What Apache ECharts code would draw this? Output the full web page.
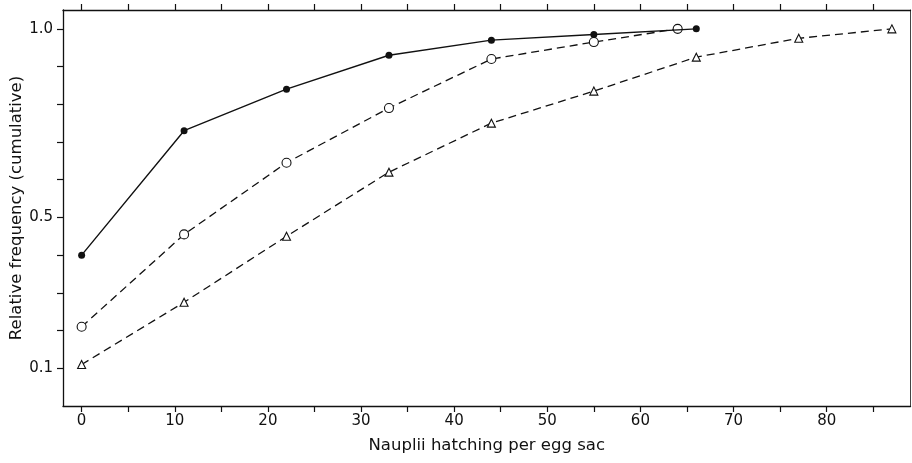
<!DOCTYPE html>
<html>
<head>
<meta charset="utf-8">
<script src="https://cdn.jsdelivr.net/npm/echarts@6/dist/echarts.min.js"></script>
<style>html,body{margin:0;padding:0;background:#fff;}#c{width:912px;height:463px;}</style>
</head>
<body>
<div id="c"></div>
<script>
// Data
const filledX = [0, 11, 22, 33, 44, 55, 66];
const filledY = [0.40, 0.73, 0.84, 0.93, 0.97, 0.985, 1.0];
const openX = [0, 11, 22, 33, 44, 55, 64];
const openY = [0.21, 0.455, 0.645, 0.79, 0.92, 0.965, 1.0];
const triX = [0, 11, 22, 33, 44, 55, 66, 77, 87];
const triY = [0.11, 0.275, 0.45, 0.62, 0.75, 0.835, 0.925, 0.975, 1.0];
const xTickValues = [0, 5, 10, 15, 20, 25, 30, 35, 40, 45, 50, 55, 60, 65, 70, 75, 80, 85];
const xLabelValues = [0, 10, 20, 30, 40, 50, 60, 70, 80];
const yTickValues = [0.1, 0.2, 0.3, 0.4, 0.5, 0.6, 0.7, 0.8, 0.9, 1.0];
const yLabelValues = [0.1, 0.5, 1.0];
const xTitle = 'Nauplii hatching per egg sac';
const yTitle = 'Relative frequency (cumulative)';

const zip = (xs, ys) => xs.map((x, i) => [x, ys[i]]);
const ink = '#111';
const font = 'DejaVu Sans';

const chart = echarts.init(document.getElementById('c'), null, {renderer: 'canvas'});
chart.setOption({
  animation: false,
  backgroundColor: '#fff',
  grid: {left: 63, right: 1.5, top: 10, bottom: 57, containLabel: false, outerBoundsMode: 'none'},
  xAxis: [{
    type: 'value', min: -2, max: 89, position: 'bottom',
    name: xTitle, nameLocation: 'middle', nameGap: 31, nameMoveOverlap: false,
    nameTextStyle: {fontFamily: font, fontSize: 16.5, color: ink},
    axisLine: {show: true, onZero: false, lineStyle: {color: ink, width: 1.3}},
    axisTick: {show: true, inside: false, length: 6, customValues: xTickValues, lineStyle: {color: ink, width: 1.2}},
    axisLabel: {show: true, margin: 8, customValues: xLabelValues, fontFamily: font, fontSize: 15, color: ink},
    splitLine: {show: false}
  }, {
    type: 'value', min: -2, max: 89, position: 'top',
    axisLine: {show: true, onZero: false, lineStyle: {color: ink, width: 1.3}},
    axisTick: {show: true, inside: false, length: 6, customValues: xTickValues, lineStyle: {color: ink, width: 1.2}},
    axisLabel: {show: false},
    splitLine: {show: false}
  }],
  yAxis: [{
    type: 'value', min: 0, max: 1.05, position: 'left',
    name: yTitle, nameLocation: 'middle', nameGap: 38, nameRotate: 90, nameMoveOverlap: false,
    nameTextStyle: {fontFamily: font, fontSize: 16.5, color: ink},
    axisLine: {show: true, onZero: false, lineStyle: {color: ink, width: 1.3}},
    axisTick: {show: true, inside: false, length: 6, customValues: yTickValues, lineStyle: {color: ink, width: 1.2}},
    axisLabel: {show: true, margin: 10, customValues: yLabelValues, fontFamily: font, fontSize: 15, color: ink,
      formatter: v => v.toFixed(1)},
    splitLine: {show: false}
  }, {
    type: 'value', min: 0, max: 1.05, position: 'right',
    axisLine: {show: true, onZero: false, lineStyle: {color: '#444', width: 1}},
    axisTick: {show: false}, axisLabel: {show: false}, splitLine: {show: false}
  }],
  series: [{
    type: 'line', name: 'triangles', data: zip(triX, triY),
    symbol: 'triangle', symbolSize: 8,
    lineStyle: {color: ink, width: 1.3, type: [8, 5]},
    itemStyle: {color: '#fff', borderColor: ink, borderWidth: 1.1},
    z: 3
  }, {
    type: 'line', name: 'open', data: zip(openX, openY),
    symbol: 'circle', symbolSize: 9,
    lineStyle: {color: ink, width: 1.3, type: [8, 5]},
    itemStyle: {color: '#fff', borderColor: ink, borderWidth: 1.1},
    z: 4
  }, {
    type: 'line', name: 'filled', data: zip(filledX, filledY),
    symbol: 'circle', symbolSize: 7,
    lineStyle: {color: ink, width: 1.4, type: 'solid'},
    itemStyle: {color: ink, borderColor: ink, borderWidth: 0},
    z: 5
  }]
});
</script>
</body>
</html>
